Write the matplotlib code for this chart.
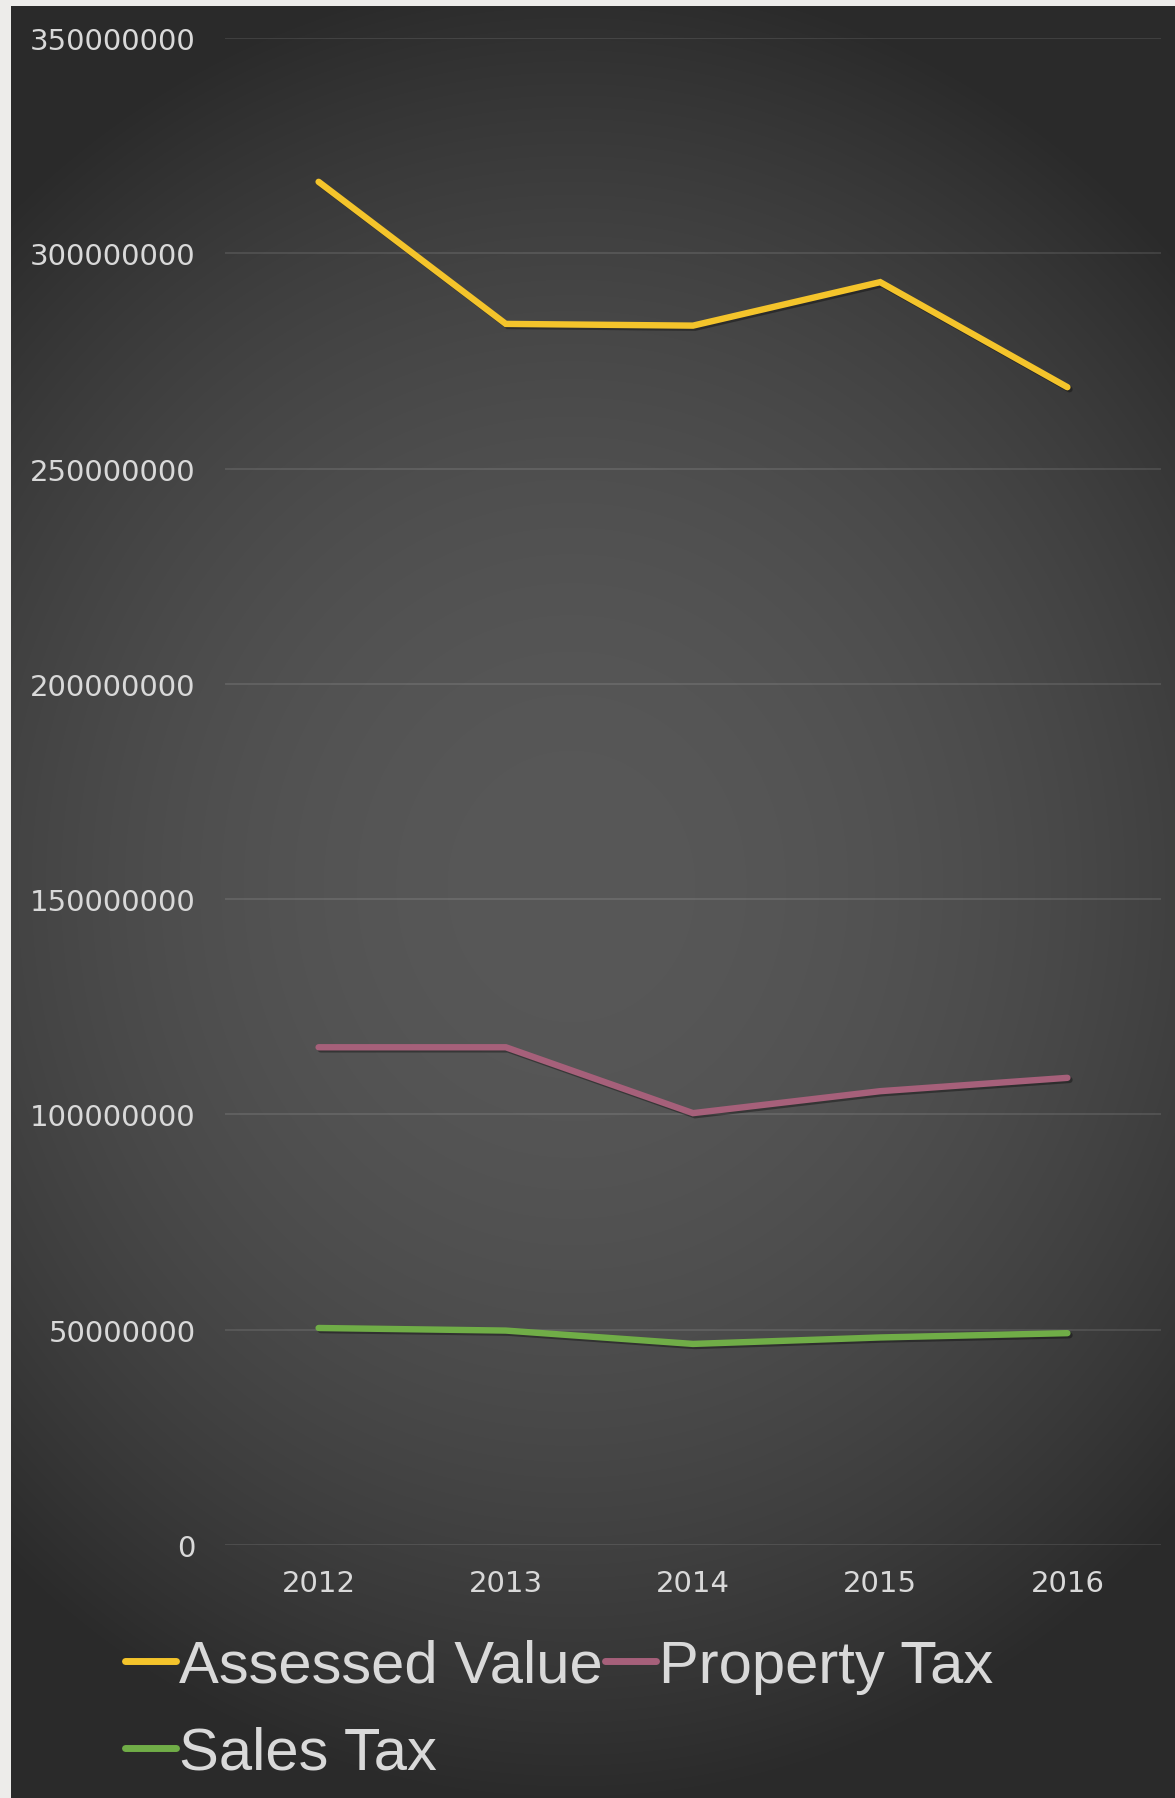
import matplotlib
matplotlib.use("Agg")
import matplotlib.pyplot as plt
import matplotlib.patheffects as pe
import numpy as np

# chart data
years = ["2012", "2013", "2014", "2015", "2016"]
assessed_value = [316.6e6, 283.6e6, 283.2e6, 293.3e6, 268.9e6]
property_tax = [115.6e6, 115.6e6, 100.3e6, 105.4e6, 108.5e6]
sales_tax = [50.4e6, 49.8e6, 46.7e6, 48.2e6, 49.2e6]
series_names = ["Assessed Value", "Property Tax", "Sales Tax"]
y_ticks = [0, 50000000, 100000000, 150000000, 200000000, 250000000, 300000000, 350000000]

colors = ["#F4C42B", "#A6607A", "#70AD47"]
text_col = "#D9D9D9"
plt.rcParams["font.family"] = ["Liberation Sans", "DejaVu Sans"]

W, H = 1175, 1799
fig = plt.figure(figsize=(W / 100, H / 100), dpi=100)
fig.patch.set_facecolor("#EDECEA")

# radial gradient background of the chart area
bx0, by1 = 11, 7
bg = fig.add_axes([bx0 / W, 0, 1 - bx0 / W, 1 - by1 / H])
bg.set_axis_off()
gw, gh = W - bx0, H - by1
xx, yy = np.meshgrid(np.arange(gw), np.arange(gh))
cx, cy = 560, 880
r2 = ((xx - cx) / 840.0) ** 2 + ((yy - cy) / 920.0) ** 2
shade = 88 - 46 * np.clip(r2, 0, 1)
img = np.dstack([shade, shade, shade]) / 255.0
bg.imshow(img, aspect="auto", interpolation="bilinear")

# main axes
left, right = 225, 1161
top, bottom = 39, 1546
ax = fig.add_axes([left / W, 1 - bottom / H, (right - left) / W, (bottom - top) / H])
ax.patch.set_alpha(0)

x = np.arange(len(years))
shadow = [pe.SimpleLineShadow(offset=(1.5, -1.5), alpha=0.35, shadow_color="black"), pe.Normal()]
lines = []
for vals, c, name in zip([assessed_value, property_tax, sales_tax], colors, series_names):
    ln, = ax.plot(x, vals, color=c, lw=4.6, solid_capstyle="round", solid_joinstyle="miter",
                  label=name, path_effects=shadow, zorder=3)
    lines.append(ln)

ax.set_xlim(-0.5, len(years) - 0.5)
ax.set_ylim(0, 350000000)
ax.set_yticks(y_ticks)
ax.set_yticklabels([str(v) for v in y_ticks], family="DejaVu Sans")
ax.set_xticks(x)
ax.set_xticklabels(years, family="DejaVu Sans")
ax.grid(axis="y", color="white", alpha=0.1, lw=1.5, zorder=1)
ax.set_axisbelow(True)
for s in ax.spines.values():
    s.set_visible(False)
ax.tick_params(axis="both", length=0, colors=text_col, labelsize=21)
ax.tick_params(axis="y", pad=21)
ax.tick_params(axis="x", pad=17)

# legend: reorder so it reads Assessed | Property on row 1, Sales on row 2
handles = [lines[0], lines[2], lines[1]]
labels = [series_names[0], series_names[2], series_names[1]]
leg = fig.legend(handles, labels, ncol=2, loc="upper left",
                 bbox_to_anchor=(95 / W, 1 - 1610 / H), frameon=False,
                 fontsize=43, handlelength=0.85, handletextpad=0.05,
                 columnspacing=0.05, labelspacing=0.53, borderpad=0)
for t in leg.get_texts():
    t.set_color(text_col)
for lh in leg.get_lines():
    lh.set_linewidth(5)
    lh.set_solid_capstyle("round")
    lh.set_path_effects([])

fig.savefig("out.png", dpi=100, facecolor=fig.get_facecolor())
